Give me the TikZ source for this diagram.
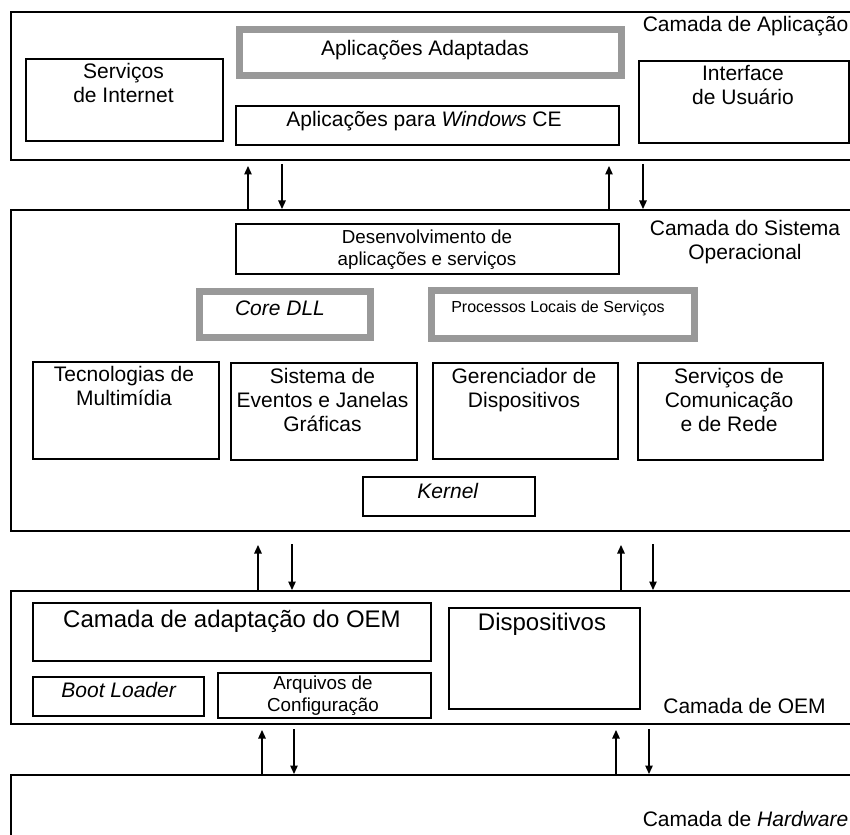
\documentclass[tikz,border=0pt]{standalone}
\usepackage{fontspec}
\setmainfont{Liberation Sans}
\usetikzlibrary{arrows.meta}
\definecolor{boxgray}{RGB}{153,153,153}
\newcommand\fntreg{\fontsize{21}{24}\selectfont}
\newcommand\fntbig{\fontsize{24}{28}\selectfont}
\newcommand\fntsml{\fontsize{18.8}{22}\selectfont}
\newcommand\fnttiny{\fontsize{16}{19}\selectfont}
\begin{document}
\begin{tikzpicture}[x=1pt,y=-1pt,
  layer/.style={draw, line width=2pt, rectangle, inner sep=0pt, anchor=north west},
  box/.style={draw, line width=1.6pt, rectangle, inner sep=0pt, anchor=north west},
  graybox/.style={draw=boxgray, line width=7pt, rectangle, inner sep=0pt, anchor=north west},
  lbl/.style={inner sep=0pt, anchor=base, align=center, font=\fntreg},
  arr/.style={line width=1.3pt, -{Triangle[length=8.5pt,width=7.5pt]}}]
\useasboundingbox (0,0) rectangle (850,834);
\clip (0,0) rectangle (850,834);

% ---- layers (they run off the right edge) ----
\node[layer, minimum width=870pt, minimum height=148pt] (L1) at (10,11) {};
\node[layer, minimum width=870pt, minimum height=321pt] (L2) at (10,209) {};
\node[layer, minimum width=870pt, minimum height=133pt] (L3) at (10,590) {};
\node[layer, minimum width=870pt, minimum height=126pt] (L4) at (10,774) {};

% ---- application layer ----
\node[box, minimum width=197pt, minimum height=82pt] (inet) at (25,58) {};
\node[graybox, minimum width=382pt, minimum height=46pt] (adapt) at (235.5,26.5) {};
\node[box, minimum width=383pt, minimum height=39pt] (wince) at (235,105) {};
\node[box, minimum width=210pt, minimum height=82pt] (ui) at (638,60) {};

% multi-line labels are placed by the baseline of their last line
\node[lbl] (tinet) at (123.5,103) {Serviços\\de Internet};
\node[lbl] (tadapt) at (425,56) {Aplicações Adaptadas};
\node[lbl] (twince) at (424,127) {Aplicações para \textit{Windows} CE};
\node[lbl] (tui) at (743,105) {Interface\\de Usuário};
\node[lbl] (tL1) at (745.5,32) {Camada de Aplicação};

% ---- operating system layer ----
\node[box, minimum width=383pt, minimum height=50pt] (dev) at (235,223) {};
\node[graybox, minimum width=171pt, minimum height=46pt] (core) at (195.5,287.5) {};
\node[graybox, minimum width=263pt, minimum height=48pt] (proc) at (427.5,286.5) {};
\node[box, minimum width=186pt, minimum height=97pt] (multi) at (32,361) {};
\node[box, minimum width=186pt, minimum height=97pt] (event) at (230,362) {};
\node[box, minimum width=185pt, minimum height=96pt] (gerenc) at (432,362) {};
\node[box, minimum width=185pt, minimum height=97pt] (comm) at (637,362) {};
\node[box, minimum width=172pt, minimum height=39pt] (kernel) at (362,476) {};

\node[lbl, font=\fntsml] (tdev) at (427,265) {Desenvolvimento de\\aplicações e serviços};
\node[lbl] (tcore) at (280,315) {\textit{Core DLL}};
\node[lbl, font=\fnttiny] (tproc) at (558,312) {Processos Locais de Serviços};
\node[lbl] (tL2) at (745,259) {Camada do Sistema\\Operacional};
\node[lbl] (tmulti) at (124,405) {Tecnologias de\\Multimídia};
\node[lbl] (tevent) at (322.5,431) {Sistema de\\Eventos e Janelas\\Gráficas};
\node[lbl] (tgerenc) at (524,407) {Gerenciador de\\Dispositivos};
\node[lbl] (tcomm) at (729,431) {Serviços de\\Comunicação\\e de Rede};
\node[lbl] (tkernel) at (448,498) {\textit{Kernel}};

% ---- OEM layer ----
\node[box, minimum width=398pt, minimum height=58pt] (hal) at (32,602) {};
\node[box, minimum width=171pt, minimum height=39pt] (boot) at (32,676) {};
\node[box, minimum width=213pt, minimum height=45pt] (cfg) at (217,672) {};
\node[box, minimum width=191pt, minimum height=101pt] (devs) at (448,607) {};

\node[lbl, font=\fntbig] (thal) at (232,627) {Camada de adaptação do OEM};
\node[lbl] (tboot) at (119,697) {\textit{Boot Loader}};
\node[lbl, font=\fntsml] (tcfg) at (323,711) {Arquivos de\\Configuração};
\node[lbl, font=\fntbig] (tdevs) at (542,630) {Dispositivos};
\node[lbl] (tL3) at (744.5,713) {Camada de OEM};

% ---- hardware layer ----
\node[lbl] (tL4) at (745.5,826) {Camada de \textit{Hardware}};

% ---- arrow ends between the layers ----
\coordinate (up1) at (248,166);   \coordinate (dn1) at (282,164);
\coordinate (up2) at (609,166);   \coordinate (dn2) at (643,164);
\coordinate (up3) at (258,545);   \coordinate (dn3) at (292,544);
\coordinate (up4) at (621,545);   \coordinate (dn4) at (653,544);
\coordinate (up5) at (262,730);   \coordinate (dn5) at (294,729);
\coordinate (up6) at (616,730);   \coordinate (dn6) at (649,729);

\draw[arr] (L2.north -| up1) -- (up1);
\draw[arr] (dn1) -- (dn1 |- L2.north);
\draw[arr] (L2.north -| up2) -- (up2);
\draw[arr] (dn2) -- (dn2 |- L2.north);
\draw[arr] (L3.north -| up3) -- (up3);
\draw[arr] (dn3) -- (dn3 |- L3.north);
\draw[arr] (L3.north -| up4) -- (up4);
\draw[arr] (dn4) -- (dn4 |- L3.north);
\draw[arr] (L4.north -| up5) -- (up5);
\draw[arr] (dn5) -- (dn5 |- L4.north);
\draw[arr] (L4.north -| up6) -- (up6);
\draw[arr] (dn6) -- (dn6 |- L4.north);
\end{tikzpicture}
\end{document}
